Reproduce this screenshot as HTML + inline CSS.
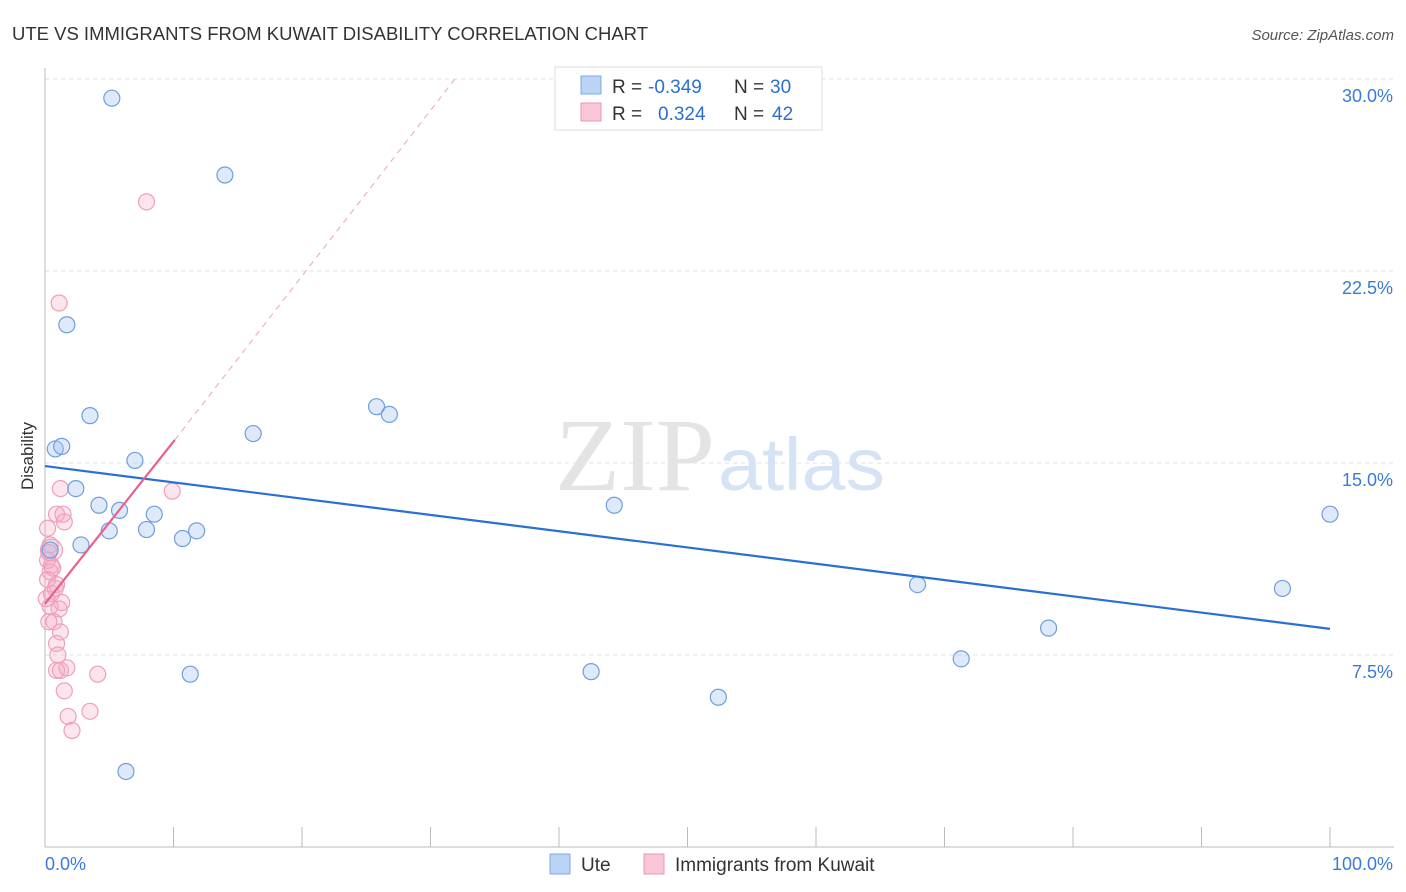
<!DOCTYPE html>
<html><head><meta charset="utf-8">
<style>
body{margin:0;background:#fff;font-family:"Liberation Sans",sans-serif;}
svg{display:block}
</style></head>
<body>
<svg id="chart" width="1406" height="892">
  <text x="12" y="40" font-size="18.5" fill="#333" textLength="636" lengthAdjust="spacingAndGlyphs">UTE VS IMMIGRANTS FROM KUWAIT DISABILITY CORRELATION CHART</text>
  <text x="1394" y="40" font-size="15" fill="#555" text-anchor="end" font-style="italic">Source: ZipAtlas.com</text>
  <g id="grid"></g>
  <text x="555" y="490" font-size="104" fill="#e4e4e4" textLength="160" lengthAdjust="spacingAndGlyphs" font-family="Liberation Serif">ZIP</text>
  <text x="718" y="490" font-size="74" fill="#d6e3f5" textLength="167" lengthAdjust="spacingAndGlyphs">atlas</text>
  <g id="marks"></g>
  <text x="33" y="456" font-size="17" fill="#333" text-anchor="middle" transform="rotate(-90 33 456)">Disability</text>
  <g>
    <rect x="555" y="67" width="267" height="63" fill="#fff" stroke="#ddd"/>
    <rect x="581" y="76" width="20" height="18" fill="#b9d4f5" stroke="#7fa9e0"/>
    <rect x="581" y="103" width="20" height="18" fill="#f9c6d6" stroke="#ee94b0"/>
    <text y="93" font-size="19" fill="#333"><tspan x="612">R =</tspan><tspan x="648" fill="#2c6fd1">-0.349</tspan><tspan x="734">N =</tspan><tspan x="770" fill="#2c6fd1">30</tspan></text>
    <text y="120" font-size="19" fill="#333"><tspan x="612">R =</tspan><tspan x="658" fill="#2c6fd1">0.324</tspan><tspan x="734">N =</tspan><tspan x="772" fill="#2c6fd1">42</tspan></text>
  </g>
  <g>
    <rect x="550" y="854" width="20" height="20" fill="#b9d4f5" stroke="#7fa9e0"/>
    <text x="581" y="871" font-size="19" fill="#333">Ute</text>
    <rect x="644" y="854" width="20" height="20" fill="#f9c6d6" stroke="#ee94b0"/>
    <text x="675" y="871" font-size="19" fill="#333">Immigrants from Kuwait</text>
  </g>
</svg>
<script>
const yTicks=[7.5,15,22.5,30];
const yTickLabels=["7.5%","15.0%","22.5%","30.0%"];
const xTicks=[0,10,20,30,40,50,60,70,80,90,100];
const uteX=[5.2,14.0,1.7,3.5,0.8,1.3,7.0,2.4,4.2,5.8,8.5,7.9,5.0,10.7,11.8,2.8,16.2,25.8,26.8,44.3,11.3,42.5,52.4,6.3,67.9,71.3,78.1,96.3,100,0.4];
const uteY=[29.25,26.25,20.4,16.85,15.55,15.65,15.1,14.0,13.35,13.15,13.0,12.4,12.35,12.05,12.35,11.8,16.15,17.2,16.9,13.35,6.75,6.85,5.85,2.95,10.25,7.35,8.55,10.1,13.0,11.6];
const kuwX=[7.9,1.1,9.9,1.2,0.9,1.4,1.5,0.2,0.4,0.5,0.2,0.5,0.4,0.2,0.9,0.5,1.3,0.4,1.1,0.7,1.2,0.9,1.0,1.7,0.9,1.2,4.1,1.5,3.5,1.8,2.1,0.3,0.6,0.8,0.1,0.3];
const kuwY=[25.2,21.25,13.9,14.0,13.0,13.0,12.7,12.45,11.8,11.6,11.2,11.0,10.75,10.45,10.25,9.9,9.55,9.4,9.3,8.8,8.4,7.95,7.5,7.0,6.9,6.9,6.75,6.1,5.3,5.1,4.55,11.5,10.9,10.1,9.7,8.8];
const uteLine=[[0,14.88],[100,8.52]];
const kuwLine=[[0,9.5],[10.1,15.9]];
const kuwDash=[[10.1,15.9],[31.9,30]];
const X=v=>45+v*12.85, Y=v=>847-v*25.6;
const NS="http://www.w3.org/2000/svg";
function mk(t,a,p){const e=document.createElementNS(NS,t);for(const k in a)e.setAttribute(k,a[k]);p.appendChild(e);return e;}
const grid=document.getElementById('grid'), marks=document.getElementById('marks');
yTicks.forEach((t,i)=>{
  const l=mk('line',{x1:45,x2:1394,y1:Y(t),y2:Y(t),stroke:'#e2e2e2','stroke-dasharray':'4,4'},grid);
  
  
  const tx=mk('text',{x:1393,y:Y(t)+23,'font-size':18,fill:'#3b7ad6','text-anchor':'end'},grid);
  tx.textContent=yTickLabels[i];
  
  
});
const ax=mk('line',{x1:45,x2:1394,y1:847,y2:847,stroke:'#bbb'},grid);


const ay=mk('line',{x1:45,x2:45,y1:68,y2:847,stroke:'#bbb'},grid);


xTicks.forEach(t=>{
  const l=mk('line',{x1:X(t),x2:X(t),y1:827,y2:847,stroke:'#bbb'},grid);
  
  
});
[["0.0%",45,'start'],["100.0%",1393,'end']].forEach(a=>{
  const tx=mk('text',{x:a[1],y:870,'font-size':18,fill:'#3b7ad6','text-anchor':a[2]},grid);
  tx.textContent=a[0];
  
  
});
kuwX.forEach((x,i)=>{
  const c=mk('circle',{cx:X(x),cy:Y(kuwY[i]),r:i==9?11:8,fill:'rgba(245,170,195,0.3)',stroke:'#eea0b8','stroke-width':1.2},marks);
  
  
});
uteX.forEach((x,i)=>{
  const c=mk('circle',{cx:X(x),cy:Y(uteY[i]),r:8,fill:'rgba(160,196,240,0.35)',stroke:'#6f9ede','stroke-width':1.2},marks);
  
  
});
const ul=mk('line',{x1:X(uteLine[0][0]),y1:Y(uteLine[0][1]),x2:X(uteLine[1][0]),y2:Y(uteLine[1][1]),stroke:'#2a6fd4','stroke-width':2.2},marks);


const kl=mk('line',{x1:X(kuwLine[0][0]),y1:Y(kuwLine[0][1]),x2:X(kuwLine[1][0]),y2:Y(kuwLine[1][1]),stroke:'#e8608c','stroke-width':2.2},marks);


const kd=mk('line',{x1:X(kuwDash[0][0]),y1:Y(kuwDash[0][1]),x2:X(kuwDash[1][0]),y2:Y(kuwDash[1][1]),stroke:'#f0b0c4','stroke-width':1.2,'stroke-dasharray':'6,5'},marks);


</script>
</body></html>
